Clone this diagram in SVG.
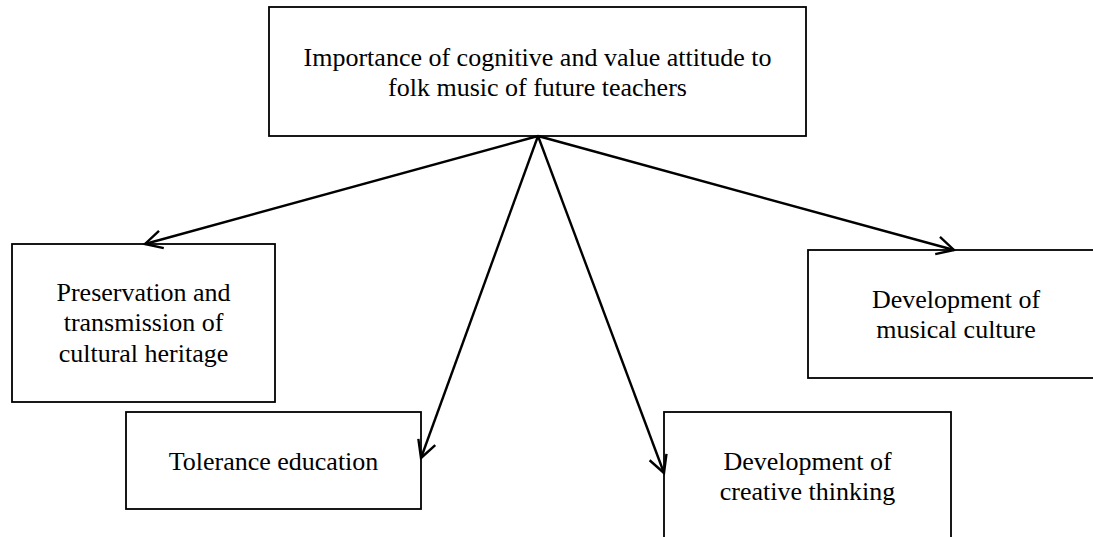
<svg xmlns="http://www.w3.org/2000/svg" width="1093" height="537" viewBox="0 0 1093 537">
<style>
.box{fill:#fff;stroke:#000;stroke-width:1.8}
.t{font-family:"Liberation Serif","Times New Roman",serif;font-size:26px;fill:#000;text-anchor:middle}
.c{fill:none;stroke:#000;stroke-width:2.4}
</style>
<defs>
<marker id="arr" viewBox="-22 -12 24 24" refX="0" refY="0" markerWidth="24" markerHeight="24" markerUnits="userSpaceOnUse" orient="auto" overflow="visible">
<path d="M-17,-9 L0,0 L-17,9" fill="none" stroke="#000" stroke-width="2.4"/>
</marker>
</defs>
<rect width="1093" height="537" fill="#fff"/>
<g id="n-top">
<rect class="box" x="269" y="7" width="537" height="129"/>
<text class="t" x="537.5" y="66">Importance of cognitive and value attitude to</text>
<text class="t" x="537.5" y="96">folk music of future teachers</text>
</g>
<g id="n-heritage">
<rect class="box" x="12" y="244" width="263" height="158"/>
<text class="t" x="143.5" y="301">Preservation and</text>
<text class="t" x="143.5" y="331">transmission of</text>
<text class="t" x="143.5" y="362">cultural heritage</text>
</g>
<g id="n-tolerance">
<rect class="box" x="126" y="412" width="295" height="97"/>
<text class="t" x="273.5" y="470">Tolerance education</text>
</g>
<g id="n-creative">
<rect class="box" x="664" y="412" width="287" height="140"/>
<text class="t" x="807.5" y="470">Development of</text>
<text class="t" x="807.5" y="500">creative thinking</text>
</g>
<g id="n-musical">
<rect class="box" x="808" y="250" width="300" height="128"/>
<text class="t" x="956" y="308">Development of</text>
<text class="t" x="956" y="338">musical culture</text>
</g>
<g id="connectors">
<line class="c" x1="538" y1="136" x2="145" y2="244" marker-end="url(#arr)"/>
<line class="c" x1="538" y1="136" x2="421" y2="458" marker-end="url(#arr)"/>
<line class="c" x1="538" y1="136" x2="664" y2="473" marker-end="url(#arr)"/>
<line class="c" x1="538" y1="136" x2="954" y2="250" marker-end="url(#arr)"/>
</g>
</svg>
